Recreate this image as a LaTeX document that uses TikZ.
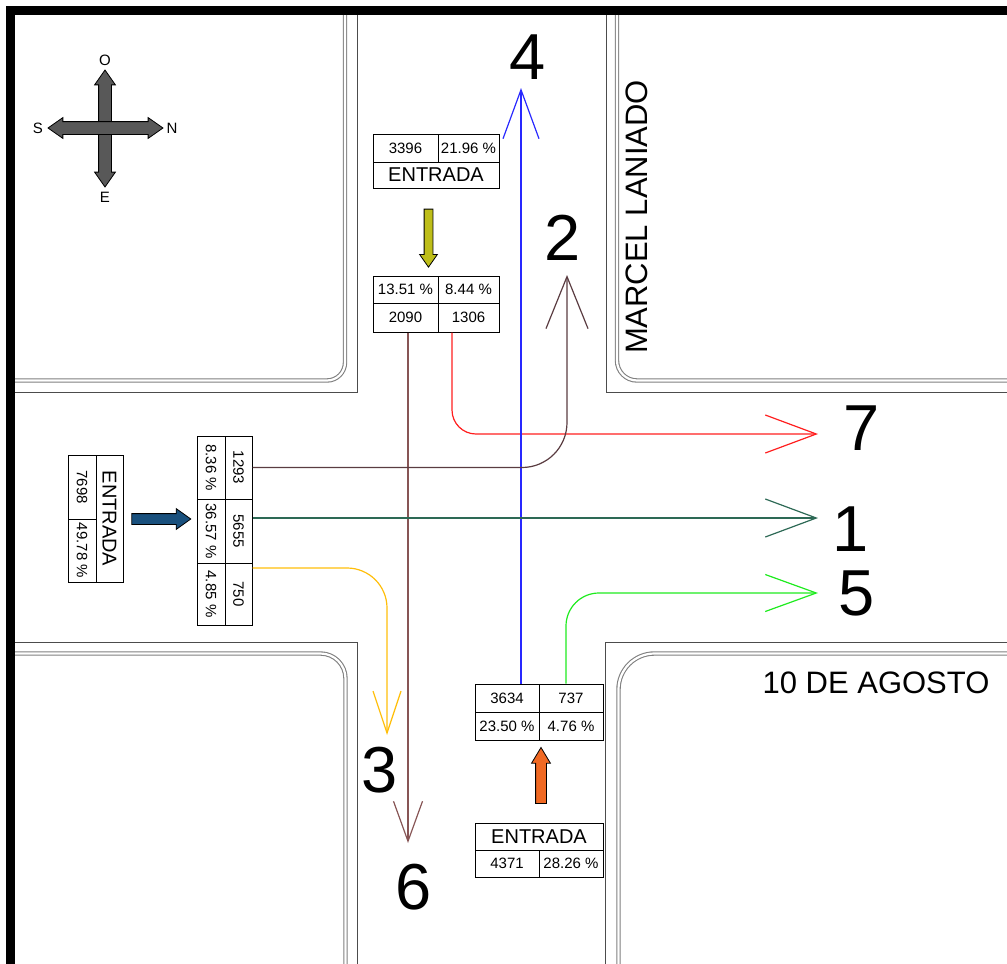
\documentclass[tikz,border=0pt]{standalone}
\usepackage{fontspec}
\setmainfont{Liberation Sans}
\usetikzlibrary{arrows.meta,shapes.arrows}

\definecolor{flowBlue}{RGB}{40,40,255}
\definecolor{flowRed}{RGB}{255,30,30}
\definecolor{flowTeal}{RGB}{45,105,85}
\definecolor{flowGreen}{RGB}{30,235,30}
\definecolor{flowPlum}{RGB}{90,60,65}
\definecolor{flowBrown}{RGB}{135,85,85}
\definecolor{flowAmber}{RGB}{255,190,10}
\definecolor{arrOlive}{RGB}{190,190,25}
\definecolor{arrNavy}{RGB}{25,80,125}
\definecolor{arrOrange}{RGB}{240,105,35}
\definecolor{compassGray}{RGB}{88,88,88}

\tikzset{
  cell/.style={draw=black, line width=1pt, inner sep=0pt, font=\fontsize{15}{15}\selectfont},
  titlecell/.style={cell, font=\fontsize{20}{20}\selectfont},
  curb/.style={draw=gray, line width=1.1pt, double=white, double distance=2.2pt},
  walk/.style={draw=black!70, line width=1pt},
  flow/.style={line width=1.2pt},
  barb/.style 2 args={-{Straight Barb[length=#1,width=#2]}},
  exitnum/.style={font=\fontsize{65}{65}\selectfont, inner sep=0pt},
  street/.style={font=\fontsize{31}{31}\selectfont, inner sep=0pt},
  entryarrow/.style={single arrow, draw=black, line width=0.8pt, single arrow head indent=0pt},
  compass/.style={double arrow, draw=black, line width=0.8pt, fill=compassGray,
    inner sep=6pt, double arrow head extend=4pt, double arrow tip angle=70},
  compassletter/.style={font=\fontsize{15}{15}\selectfont, inner sep=0pt}
}

\newcommand{\vtxt}[1]{\rotatebox{-90}{#1}}

\begin{document}
\begin{tikzpicture}[x=1pt, y=-1pt]
\useasboundingbox (0,0) rectangle (1007,964);

% --- Blocks: sidewalk edge and curb (double line) ---
\draw[walk] (15,392) -| (357,15);
\draw[curb, rounded corners=18pt] (15,380.5) -| (345,15);

\draw[walk] (1007,392) -| (606,15);
\draw[curb, rounded corners=20pt] (1007,380.5) -| (617,15);

\draw[walk] (15,642) -| (357,964);
\draw[curb, rounded corners=25pt] (15,653.5) -| (345.5,964);

\draw[walk] (1007,642) -| (605,964);
\draw[curb, rounded corners=36pt] (1007,653.5) -| (618.5,964);

% --- Street names ---
\node[street, rotate=90] (marcel) at (637,217) {MARCEL LANIADO};
\node[street] (agosto) at (876,683) {10 DE AGOSTO};

% --- Compass ---
\node[compass, minimum height=117pt, rotate=90] (cmpV) at (105,128.5) {};
\node[compass, minimum height=115pt] (cmpH) at (105.5,128) {};
\node[compassletter] (cmpO) at (105,60) {O};
\node[compassletter] (cmpE) at (105,197) {E};
\node[compassletter] (cmpS) at (38,128) {S};
\node[compassletter] (cmpN) at (172,128) {N};

% --- Top approach (entry + split) ---
\node[cell, minimum width=65pt, minimum height=28pt] (tEnNum) at (405.5,148) {3396};
\node[cell, minimum width=61pt, minimum height=28pt] (tEnPct) at (468.5,148) {21.96 \%};
\node[titlecell, minimum width=126pt, minimum height=26pt] (tEnLbl) at (436,175) {ENTRADA};

\node[entryarrow, fill=arrOlive, rotate=-90, minimum height=58pt, inner sep=4pt,
  single arrow head extend=4.5pt, single arrow tip angle=70] (inTop) at (428.5,235) {};

\node[cell, minimum width=65pt, minimum height=27pt] (tPctA) at (405.5,289.5) {13.51 \%};
\node[cell, minimum width=61pt, minimum height=27pt] (tPctB) at (468.5,289.5) {8.44 \%};
\node[cell, minimum width=65pt, minimum height=29pt] (tNumA) at (405.5,317.5) {2090};
\node[cell, minimum width=61pt, minimum height=29pt] (tNumB) at (468.5,317.5) {1306};

% --- Left approach (entry + split) ---
\node[cell, minimum width=28pt, minimum height=64pt] (lEnNum) at (82,487) {\vtxt{7698}};
\node[cell, minimum width=28pt, minimum height=63pt] (lEnPct) at (82,550.5) {\vtxt{49.78 \%}};
\node[titlecell, minimum width=27pt, minimum height=127pt] (lEnLbl) at (109.5,518.5) {\vtxt{ENTRADA}};

\node[entryarrow, fill=arrNavy, minimum height=59pt, inner sep=5pt,
  single arrow head extend=5pt, single arrow tip angle=71] (inLeft) at (157.5,519) {};

\node[cell, minimum width=28pt, minimum height=63pt] (lPctA) at (211,467.5) {\vtxt{8.36 \%}};
\node[cell, minimum width=27pt, minimum height=63pt] (lNumA) at (238.5,467.5) {\vtxt{1293}};
\node[cell, minimum width=28pt, minimum height=64pt] (lPctB) at (211,531) {\vtxt{36.57 \%}};
\node[cell, minimum width=27pt, minimum height=64pt] (lNumB) at (238.5,531) {\vtxt{5655}};
\node[cell, minimum width=28pt, minimum height=62pt] (lPctC) at (211,594) {\vtxt{4.85 \%}};
\node[cell, minimum width=27pt, minimum height=62pt] (lNumC) at (238.5,594) {\vtxt{750}};

% --- Bottom approach (entry + split) ---
\node[cell, minimum width=64pt, minimum height=28pt] (bNumA) at (507,698) {3634};
\node[cell, minimum width=64pt, minimum height=28pt] (bNumB) at (571,698) {737};
\node[cell, minimum width=64pt, minimum height=28pt] (bPctA) at (507,726) {23.50 \%};
\node[cell, minimum width=64pt, minimum height=28pt] (bPctB) at (571,726) {4.76 \%};

\node[entryarrow, fill=arrOrange, rotate=90, minimum height=56pt, inner sep=5pt,
  single arrow head extend=4pt, single arrow tip angle=62] (inBottom) at (541,780) {};

\node[titlecell, minimum width=128pt, minimum height=27pt] (bEnLbl) at (539,836.5) {ENTRADA};
\node[cell, minimum width=64pt, minimum height=27pt] (bEnNum) at (507,863.5) {4371};
\node[cell, minimum width=64pt, minimum height=27pt] (bEnPct) at (571,863.5) {28.26 \%};

% --- Exit ends and their numbers ---
\coordinate (end1) at (818,518);
\coordinate (end2) at (567,275);
\coordinate (end3) at (387,735);
\coordinate (end4) at (521,88);
\coordinate (end5) at (818,593);
\coordinate (end6) at (408,843);
\coordinate (end7) at (818,434);

\node[exitnum] (num1) at (851,529) {1};
\node[exitnum] (num2) at (563,238) {2};
\node[exitnum] (num3) at (380,770) {3};
\node[exitnum] (num4) at (528,57) {4};
\node[exitnum] (num5) at (857,593) {5};
\node[exitnum] (num6) at (414,887) {6};
\node[exitnum] (num7) at (862,428) {7};

% --- Movements ---
\draw[flow, flowBrown, barb={40pt}{29pt}] ([xshift=2.5pt]tNumA.south) -- (end6);
\draw[flow, flowRed, barb={51pt}{38pt}, rounded corners=24pt] ([xshift=-16.5pt]tNumB.south) |- (end7);
\draw[flow, flowBlue, barb={49pt}{36pt}] ([xshift=14pt]bNumA.north) -- (end4);
\draw[flow, flowGreen, barb={51pt}{37pt}, rounded corners=33pt] ([xshift=-5pt]bNumB.north) |- (end5);
\draw[flow, flowPlum, barb={52pt}{42pt}, rounded corners=45pt] (lNumA.east) -| (end2);
\draw[flow, flowTeal, barb={51pt}{38pt}] ([yshift=13pt]lNumB.east) -- (end1);
\draw[flow, flowAmber, barb={42pt}{28pt}, rounded corners=40pt] ([yshift=26pt]lNumC.east) -| (end3);

% --- Frame ---
\draw[line width=9pt] (10.5,964) -- (10.5,10.5) -- (1007,10.5);

\end{tikzpicture}
\end{document}
